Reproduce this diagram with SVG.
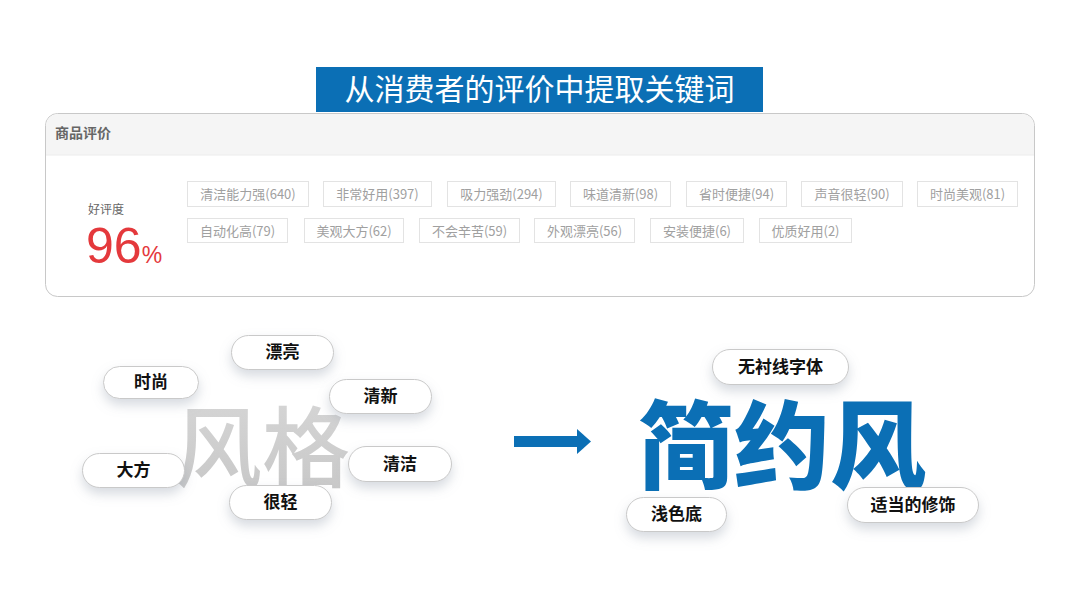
<svg xmlns="http://www.w3.org/2000/svg" width="1080" height="607" viewBox="0 0 1080 607">
<defs>
<filter id="sh" x="-30%" y="-50%" width="160%" height="250%">
<feDropShadow dx="0" dy="6" stdDeviation="6" flood-color="#8a94a6" flood-opacity="0.35"/>
</filter>
<linearGradient id="gg" x1="0" y1="0" x2="0" y2="1">
<stop offset="0" stop-color="#d8d8d8"/>
<stop offset="1" stop-color="#c6c6c6"/>
</linearGradient>
<style>
.cjk{font-family:"Noto Sans CJK SC","Noto Sans",sans-serif}
.tag rect{fill:#fff;stroke:#e3e3e3;stroke-width:1}
.tag text{font-family:"Noto Sans CJK SC",sans-serif;font-size:13px;fill:#a0a0a0;text-anchor:middle}
.pill rect{fill:#fff;stroke:#c9c9c9;stroke-width:1;filter:url(#sh)}
.pill text{font-family:"Noto Sans CJK SC",sans-serif;font-size:17px;font-weight:700;fill:#111;text-anchor:middle}
</style>
</defs>
<rect width="1080" height="607" fill="#fff"/>

<g id="title">
<rect x="316" y="67" width="447" height="45" fill="#0b6fb5"/>
<text x="539.5" y="100" class="cjk" font-size="30" font-weight="400" fill="#fff" text-anchor="middle">从消费者的评价中提取关键词</text>
</g>

<g id="panel">
<rect x="45.5" y="113.5" width="989" height="183" rx="12" fill="#fff" stroke="#c8c8c8"/>
<path d="M46 155 V126 A12 12 0 0 1 58 114 H1022 A12 12 0 0 1 1034 126 V155 Z" fill="#f5f5f5"/>
<line x1="46" y1="155" x2="1034" y2="155" stroke="#ececec"/>
<text x="55" y="138" class="cjk" font-size="14" font-weight="700" fill="#666">商品评价</text>
<text x="88" y="214" class="cjk" font-size="12" fill="#666">好评度</text>
<text x="86" y="263" font-family="Liberation Sans,Arial,sans-serif" font-size="50" fill="#e4393c">96<tspan font-size="23">%</tspan></text>
</g>

<g id="tags">
<g class="tag"><rect x="187.5" y="181.5" width="121" height="25"/><text x="248" y="199">清洁能力强(640)</text></g>
<g class="tag"><rect x="323.5" y="181.5" width="108" height="25"/><text x="377.5" y="199">非常好用(397)</text></g>
<g class="tag"><rect x="447.5" y="181.5" width="108" height="25"/><text x="501.5" y="199">吸力强劲(294)</text></g>
<g class="tag"><rect x="570.5" y="181.5" width="100" height="25"/><text x="620.5" y="199">味道清新(98)</text></g>
<g class="tag"><rect x="686.5" y="181.5" width="100" height="25"/><text x="736.5" y="199">省时便捷(94)</text></g>
<g class="tag"><rect x="801.5" y="181.5" width="101" height="25"/><text x="852" y="199">声音很轻(90)</text></g>
<g class="tag"><rect x="917.5" y="181.5" width="100" height="25"/><text x="967.5" y="199">时尚美观(81)</text></g>
<g class="tag"><rect x="187.5" y="218.5" width="100" height="24"/><text x="237.5" y="235.5">自动化高(79)</text></g>
<g class="tag"><rect x="304.5" y="218.5" width="99" height="24"/><text x="354" y="235.5">美观大方(62)</text></g>
<g class="tag"><rect x="419.5" y="218.5" width="100" height="24"/><text x="469.5" y="235.5">不会辛苦(59)</text></g>
<g class="tag"><rect x="534.5" y="218.5" width="100" height="24"/><text x="584.5" y="235.5">外观漂亮(56)</text></g>
<g class="tag"><rect x="650.5" y="218.5" width="93" height="24"/><text x="697" y="235.5">安装便捷(6)</text></g>
<g class="tag"><rect x="759.5" y="218.5" width="92" height="24"/><text x="805.5" y="235.5">优质好用(2)</text></g>
</g>

<g id="fengge">
<text x="262" y="480" class="cjk" font-size="88" font-weight="500" fill="url(#gg)" text-anchor="middle">风格</text>
</g>

<g id="jianyuefeng">
<text x="782" y="481" class="cjk" font-size="96" font-weight="900" fill="#0b6fb5" text-anchor="middle">简约风</text>
</g>

<g id="connectors">
<rect x="514" y="436" width="66" height="11" fill="#0b6fb5"/>
<polygon points="577,429 591,441.5 577,454" fill="#0b6fb5"/>
</g>

<g id="pill-shishang" class="pill"><rect x="103.5" y="366.5" width="95" height="32" rx="16"/><text x="151" y="388">时尚</text></g>
<g id="pill-piaoliang" class="pill"><rect x="231.5" y="335.5" width="102" height="34" rx="17"/><text x="282.5" y="358">漂亮</text></g>
<g id="pill-qingxin" class="pill"><rect x="329.5" y="379.5" width="102" height="34" rx="17"/><text x="380.5" y="402">清新</text></g>
<g id="pill-dafang" class="pill"><rect x="82.5" y="453.5" width="102" height="34" rx="17"/><text x="133.5" y="476">大方</text></g>
<g id="pill-qingjie" class="pill"><rect x="348.5" y="446.5" width="103" height="35" rx="17.5"/><text x="400" y="469.5">清洁</text></g>
<g id="pill-henqing" class="pill"><rect x="229.5" y="485.5" width="102" height="34" rx="17"/><text x="280.5" y="508">很轻</text></g>
<g id="pill-wuchenxian" class="pill"><rect x="712.5" y="349.5" width="136" height="35" rx="17.5"/><text x="780.5" y="372.5">无衬线字体</text></g>
<g id="pill-qianse" class="pill"><rect x="626.5" y="497.5" width="100" height="34" rx="17"/><text x="676.5" y="520">浅色底</text></g>
<g id="pill-shidang" class="pill"><rect x="847.5" y="487.5" width="131" height="35" rx="17.5"/><text x="913" y="510.5">适当的修饰</text></g>
</svg>
